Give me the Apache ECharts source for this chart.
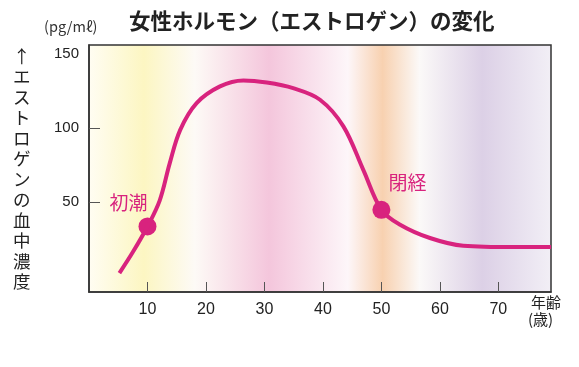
<!DOCTYPE html>
<html><head><meta charset="utf-8">
<script src="https://cdn.jsdelivr.net/npm/echarts@6/dist/echarts.min.js"></script>
<style>html,body{margin:0;padding:0;background:#fff}#c{width:579px;height:367px}</style>
</head><body><div id="c"></div>
<script>
const ages   = [5.2, 7.5, 10, 12.1, 13.8, 15.6, 18.4, 22.4, 26.4, 30.4, 34.9, 39.5, 43.5, 46.9, 50, 53.2, 58.3, 64, 72.5, 79];
const levels = [1.8, 16, 33.3, 51, 76, 98.6, 116.7, 128, 132, 130.6, 126.8, 119, 101, 71.6, 44.6, 34.5, 25.5, 20.3, 19.4, 19.4];
const eventAges = [10, 50];
const eventLevels = [33.3, 44.6];
const eventNames = ['初潮', '閉経'];
const xTicks = [10, 20, 30, 40, 50, 60, 70];
const yLabels = [50, 100, 150];
const yTicks = [50, 100];
const titleText = '女性ホルモン（エストロゲン）の変化';
const yName = '↑エストロゲンの血中濃度';
const unitText = '(pg/mℓ)';
const xName1 = '年齢';
const xName2 = '(歳)';

const MAG = '#d8237e';
const JP = '"Noto Sans CJK JP", sans-serif';
const NUM = '"Liberation Sans", "Noto Sans", sans-serif';
const chart = echarts.init(document.getElementById('c'));
chart.setOption({
  animation: false,
  backgroundColor: '#fff',
  title: { text: titleText, left: 124, top: 5, textStyle: { fontFamily: JP, fontSize: 21.5, fontWeight: 'bold', color: '#222' } },
  grid: {
    left: 89, right: 28, top: 45, bottom: 75, show: true, borderColor: '#333', borderWidth: 1.5,
    backgroundColor: { type: 'linear', x: 0, y: 0, x2: 1, y2: 0, colorStops: [
      { offset: 0, color: '#fffdf3' },
      { offset: 0.12, color: '#fcf6c2' },
      { offset: 0.23, color: '#fdfaf6' },
      { offset: 0.39, color: '#f4c6dc' },
      { offset: 0.56, color: '#fdf6f9' },
      { offset: 0.635, color: '#f8d1b0' },
      { offset: 0.715, color: '#fbf9f8' },
      { offset: 0.85, color: '#dcd0e6' },
      { offset: 1, color: '#f2eff6' }
    ] }
  },
  xAxis: {
    type: 'value', min: 0, max: 79,
    axisLine: { onZero: false, lineStyle: { color: '#333', width: 1.5 } },
    splitLine: { show: false },
    axisTick: { inside: true, length: 10, customValues: xTicks, lineStyle: { color: '#555' } },
    axisLabel: { customValues: xTicks, fontFamily: NUM, fontSize: 16, color: '#222', margin: 10 }
  },
  yAxis: {
    type: 'value', min: -11, max: 156,
    axisLine: { show: true, onZero: false, lineStyle: { color: '#333', width: 1.5 } },
    splitLine: { show: false },
    axisTick: { show: true, inside: true, length: 11, customValues: yTicks, lineStyle: { color: '#555' } },
    axisLabel: { customValues: yLabels, fontFamily: NUM, fontSize: 15, color: '#222', margin: 10 }
  },
  graphic: [
    { type: 'text', left: 44, top: 19, style: { text: unitText, fontFamily: JP, fontSize: 14.5, fill: '#333' } },
    { type: 'text', left: 13, top: 46, style: { text: yName.split('').join('\n'), fontFamily: JP, fontSize: 17.5, lineHeight: 20.5, fill: '#222', align: 'center' } },
    { type: 'text', left: 531, top: 295, style: { text: xName1, fontFamily: JP, fontSize: 15, fill: '#222' } },
    { type: 'text', left: 528, top: 312, style: { text: xName2, fontFamily: JP, fontSize: 15, fill: '#222' } }
  ],
  series: [
    { type: 'line', data: ages.map((a, i) => [a, levels[i]]), smooth: 0.35, showSymbol: false,
      lineStyle: { color: MAG, width: 4 } },
    { type: 'scatter', data: eventAges.map((a, i) => ({ value: [a, eventLevels[i]], name: eventNames[i],
        label: { offset: i === 0 ? [-19, -24] : [26, -27] } })),
      symbolSize: 18, itemStyle: { color: MAG, opacity: 1 },
      label: { show: true, position: 'inside', formatter: p => p.name, fontFamily: JP, fontSize: 19, color: MAG } }
  ]
});
</script></body></html>
